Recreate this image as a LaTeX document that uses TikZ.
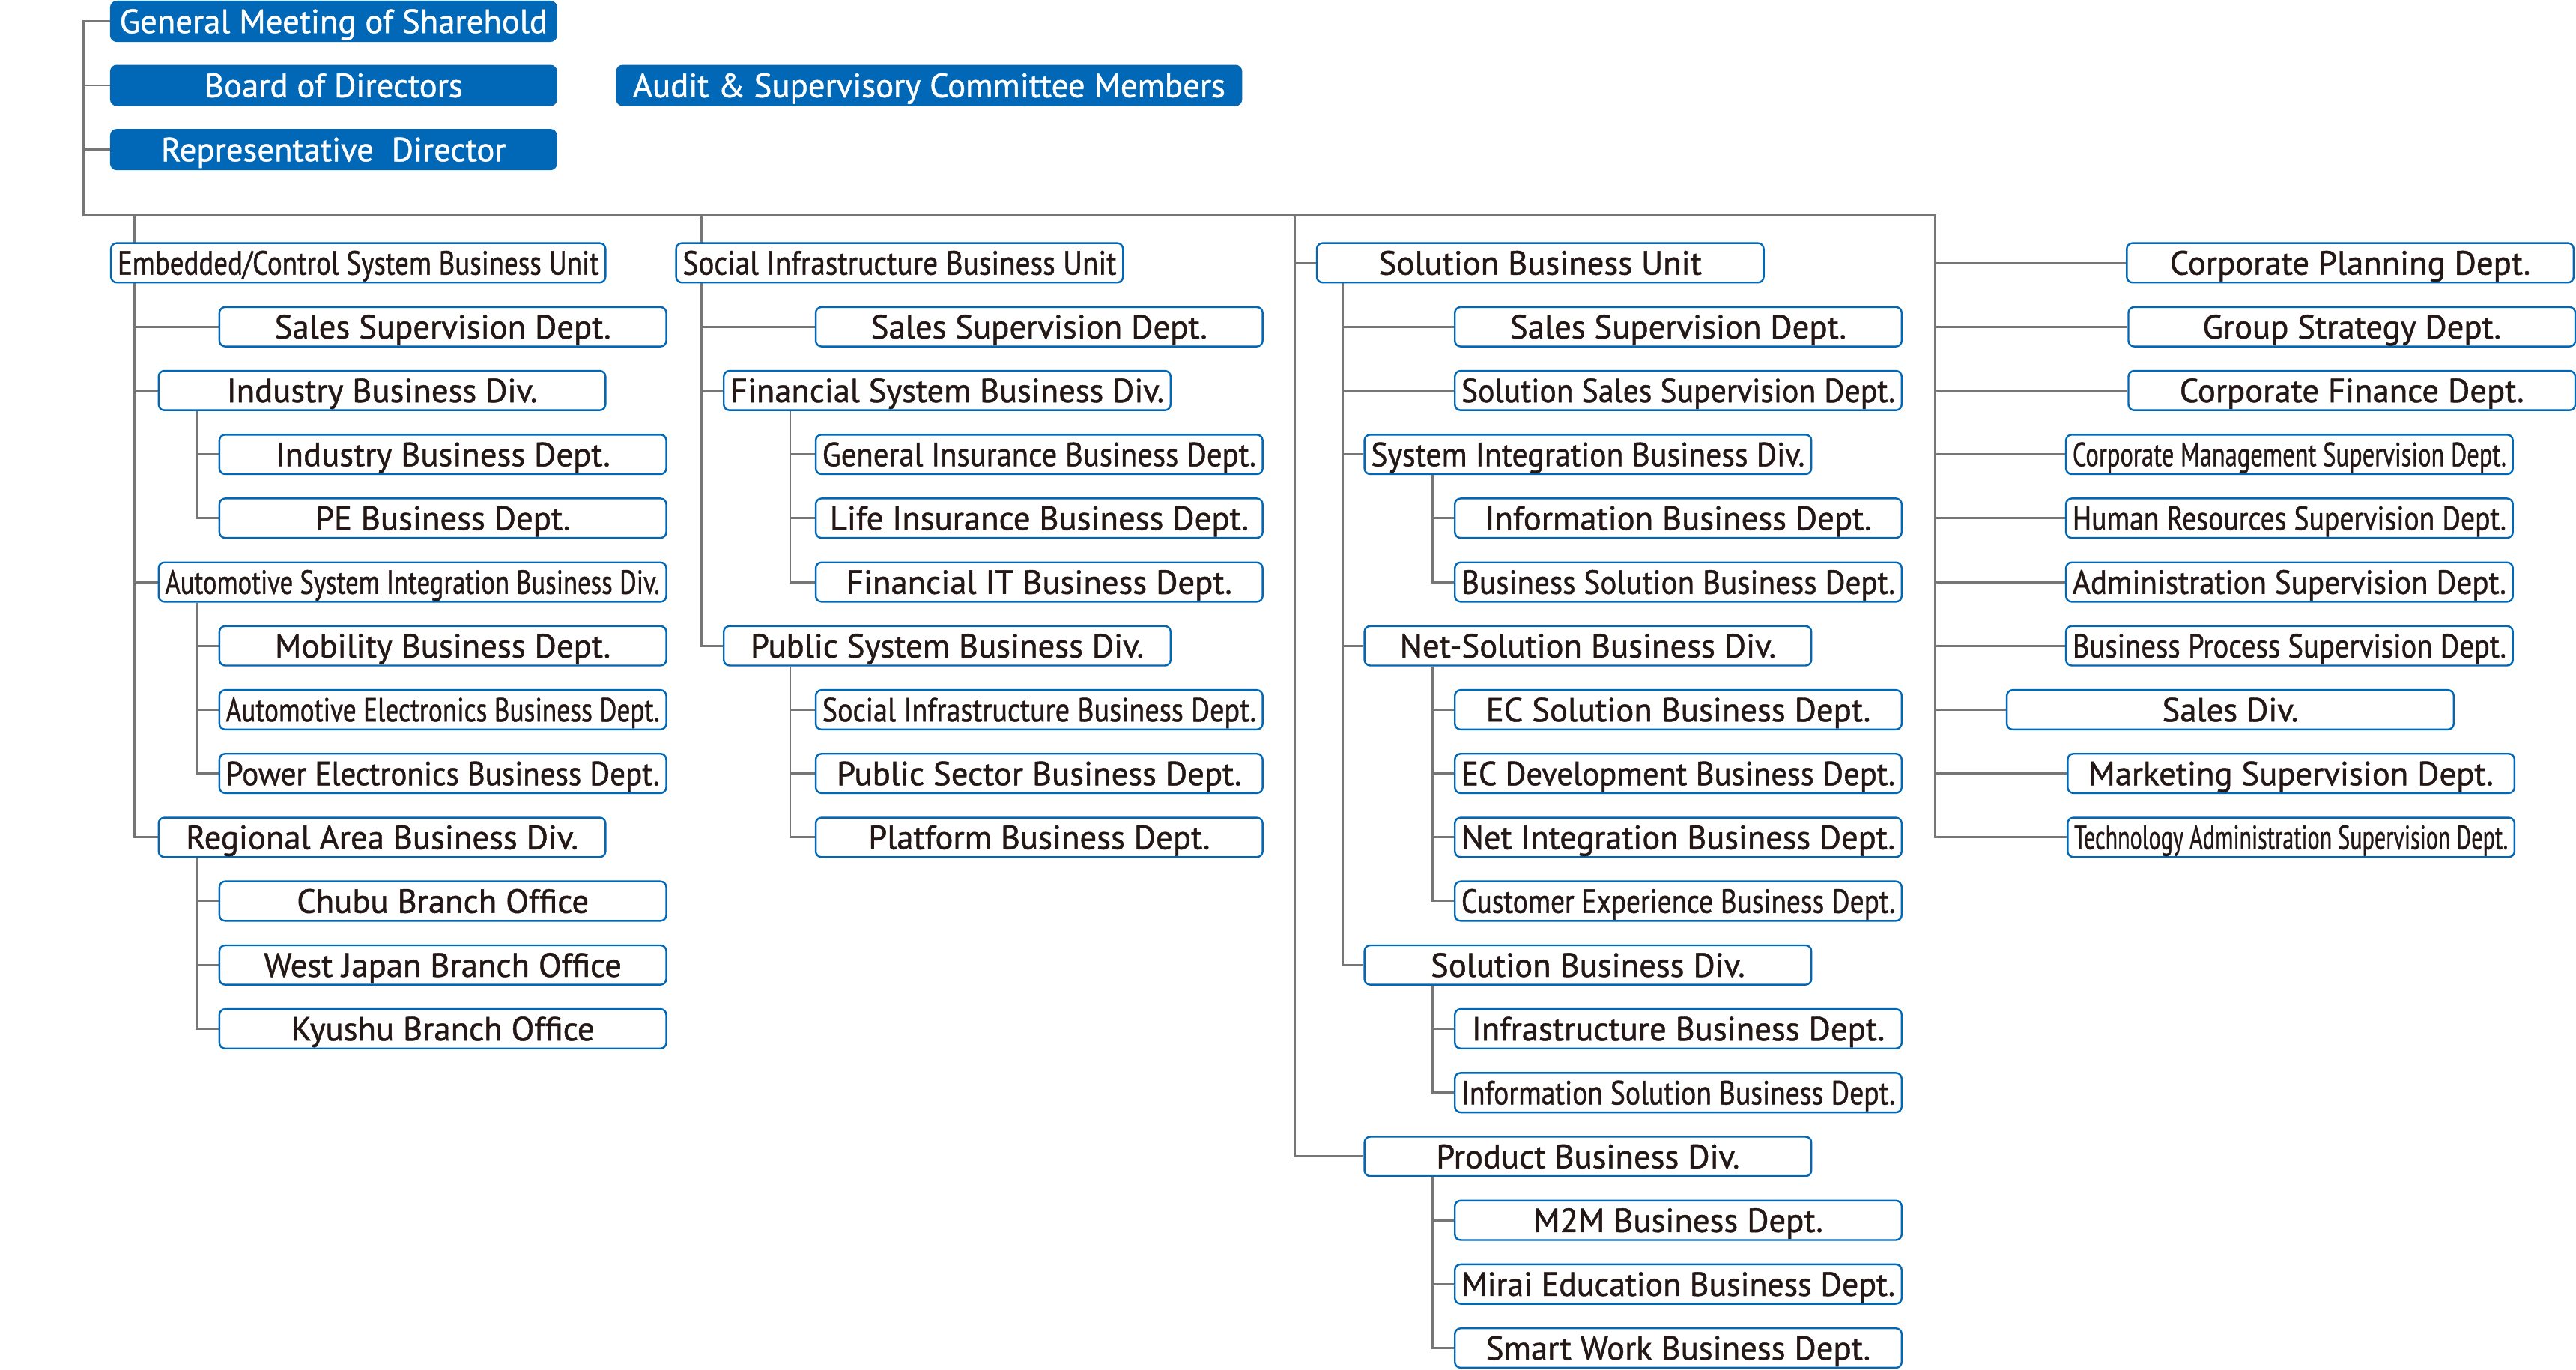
\documentclass[tikz,border=0pt]{standalone}
\usepackage{fontspec}
\setmainfont{PT Sans}[FakeBold=1]
\usepackage{graphicx}
\usetikzlibrary{backgrounds}

\definecolor{orgblue}{HTML}{0068B7}
\definecolor{orgline}{HTML}{767676}
\definecolor{orgtext}{HTML}{231815}

% squeeze a label sideways when it is wider than its box
\newsavebox\fitbox
\newcommand\fitlabel[2][264]{\sbox\fitbox{#2}%
  \ifdim\wd\fitbox>#1pt\relax
    \pgfmathsetmacro\fitratio{#1/\the\wd\fitbox}%
    \scalebox{\fitratio}[1]{\usebox\fitbox}%
  \else\usebox\fitbox\fi}

\tikzset{
  orgbox/.style={draw=orgblue, line width=1.1pt, fill=white, rounded corners=3.5pt,
    minimum width=272pt, minimum height=24pt, inner sep=0pt, text height=14.3pt, text depth=0pt,
    text=orgtext, font=\fontsize{20.4}{22}\selectfont, anchor=west},
  topbox/.style={orgbox, fill=orgblue, text=white},
  link/.style={draw=orgline, line width=1.3pt},
}

\begin{document}
\begin{tikzpicture}[x=1pt, y=-1pt]
\useasboundingbox (0,0) rectangle (1568,833.5);

% top management
\node [topbox, minimum width=271pt] (gm) at (67,13) {\fitlabel{General Meeting of Sharehold}};
\node [topbox, minimum width=271pt] (bod) at (67,52) {\fitlabel{Board of Directors}};
\node [topbox, minimum width=271pt] (rep) at (67,91) {\fitlabel{Representative~~Director}};
\node [topbox, minimum width=380pt] (audit) at (375,52) {\fitlabel[372]{Audit \& Supervisory Committee Members}};

% embedded / control column
\node [orgbox, minimum width=301pt] (ecu) at (67,160) {\fitlabel[293]{Embedded/Control System Business Unit}};
\node [orgbox] (ess) at (133,198.9) {\fitlabel{Sales Supervision Dept.}};
\node [orgbox] (ind) at (96,237.7) {\fitlabel{Industry Business Div.}};
\node [orgbox] (indd) at (133,276.6) {\fitlabel{Industry Business Dept.}};
\node [orgbox] (pe) at (133,315.4) {\fitlabel{PE Business Dept.}};
\node [orgbox, minimum width=309pt] (asi) at (96,354.3) {\fitlabel[301]{Automotive System Integration Business Div.}};
\node [orgbox] (mob) at (133,393.1) {\fitlabel{Mobility Business Dept.}};
\node [orgbox] (aeb) at (133,432) {\fitlabel{Automotive Electronics Business Dept.}};
\node [orgbox] (peb) at (133,470.8) {\fitlabel{Power Electronics Business Dept.}};
\node [orgbox] (reg) at (96,509.7) {\fitlabel{Regional Area Business Div.}};
\node [orgbox] (chubu) at (133,548.5) {\fitlabel{Chubu Branch Office}};
\node [orgbox] (wjp) at (133,587.4) {\fitlabel{West Japan Branch Office}};
\node [orgbox] (kyu) at (133,626.2) {\fitlabel{Kyushu Branch Office}};

% social infrastructure column
\node [orgbox] (siu) at (411,160) {\fitlabel{Social Infrastructure Business Unit}};
\node [orgbox] (sss) at (496,198.9) {\fitlabel{Sales Supervision Dept.}};
\node [orgbox] (fin) at (440,237.7) {\fitlabel{Financial System Business Div.}};
\node [orgbox] (gib) at (496,276.6) {\fitlabel{General Insurance Business Dept.}};
\node [orgbox] (lib) at (496,315.4) {\fitlabel{Life Insurance Business Dept.}};
\node [orgbox] (fit) at (496,354.3) {\fitlabel{Financial IT Business Dept.}};
\node [orgbox] (pub) at (440,393.1) {\fitlabel{Public System Business Div.}};
\node [orgbox] (sib) at (496,432) {\fitlabel{Social Infrastructure Business Dept.}};
\node [orgbox] (psb) at (496,470.8) {\fitlabel{Public Sector Business Dept.}};
\node [orgbox] (plat) at (496,509.7) {\fitlabel{Platform Business Dept.}};

% solution column
\node [orgbox] (sbu) at (801,160) {\fitlabel{Solution Business Unit}};
\node [orgbox] (sls) at (885,198.9) {\fitlabel{Sales Supervision Dept.}};
\node [orgbox] (sss2) at (885,237.7) {\fitlabel{Solution Sales Supervision Dept.}};
\node [orgbox] (sid) at (830,276.6) {\fitlabel{System Integration Business Div.}};
\node [orgbox] (infb) at (885,315.4) {\fitlabel{Information Business Dept.}};
\node [orgbox] (bsb) at (885,354.3) {\fitlabel{Business Solution Business Dept.}};
\node [orgbox] (nsd) at (830,393.1) {\fitlabel{Net-Solution Business Div.}};
\node [orgbox] (ecs) at (885,432) {\fitlabel{EC Solution Business Dept.}};
\node [orgbox] (ecd) at (885,470.8) {\fitlabel{EC Development Business Dept.}};
\node [orgbox] (nib) at (885,509.7) {\fitlabel{Net Integration Business Dept.}};
\node [orgbox] (cxb) at (885,548.5) {\fitlabel{Customer Experience Business Dept.}};
\node [orgbox] (sod) at (830,587.4) {\fitlabel{Solution Business Div.}};
\node [orgbox] (isb) at (885,626.2) {\fitlabel{Infrastructure Business Dept.}};
\node [orgbox] (iso) at (885,665.1) {\fitlabel{Information Solution Business Dept.}};
\node [orgbox] (prd) at (830,703.9) {\fitlabel{Product Business Div.}};
\node [orgbox] (m2m) at (885,742.8) {\fitlabel{M2M Business Dept.}};
\node [orgbox] (mir) at (885,781.6) {\fitlabel{Mirai Education Business Dept.}};
\node [orgbox] (swb) at (885,820.5) {\fitlabel{Smart Work Business Dept.}};

% corporate departments
\node [orgbox] (cpd) at (1294,160) {\fitlabel{Corporate Planning Dept.}};
\node [orgbox] (gsd) at (1295,198.9) {\fitlabel{Group Strategy Dept.}};
\node [orgbox] (cfd) at (1295,237.7) {\fitlabel{Corporate Finance Dept.}};
\node [orgbox] (cms) at (1257,276.6) {\fitlabel{Corporate Management Supervision Dept.}};
\node [orgbox] (hrs) at (1257,315.4) {\fitlabel{Human Resources Supervision Dept.}};
\node [orgbox] (ads) at (1257,354.3) {\fitlabel{Administration Supervision Dept.}};
\node [orgbox] (bps) at (1257,393.1) {\fitlabel{Business Process Supervision Dept.}};
\node [orgbox] (sdv) at (1221,432) {\fitlabel{Sales Div.}};
\node [orgbox] (mks) at (1258,470.8) {\fitlabel{Marketing Supervision Dept.}};
\node [orgbox] (tas) at (1258,509.7) {\fitlabel{Technology Administration Supervision Dept.}};

\coordinate (root) at (51,131);
\coordinate (c1) at (82,131);
\coordinate (c2) at (427,131);
\coordinate (c3) at (788,131);
\coordinate (c4) at (1178,131);

\begin{scope}[on background layer]
% main buses
\draw [link] (gm.west) -| (root) -- (c4) |- (tas.west);
\draw [link] (root |- bod.west) -- (bod.west); \draw [link] (root |- rep.west) -- (rep.west);
\draw [link] (c1) |- (reg.west);
\draw [link] (c2) |- (pub.west);
\draw [link] (c3) |- (prd.west);

% embedded / control
\draw [link] (c1 |- ess.west) -- (ess.west); \draw [link] (c1 |- ind.west) -- (ind.west);
\draw [link] (c1 |- asi.west) -- (asi.west);
\draw [link] ([xshift=23.6pt]ind.south west) |- (pe.west); \draw [link] ([xshift=23.6pt]ind.south west) |- (indd.west);
\draw [link] ([xshift=23.6pt]asi.south west) |- (peb.west); \draw [link] ([xshift=23.6pt]asi.south west) |- (mob.west);
\draw [link] ([xshift=23.6pt]asi.south west) |- (aeb.west);
\draw [link] ([xshift=23.6pt]reg.south west) |- (kyu.west); \draw [link] ([xshift=23.6pt]reg.south west) |- (chubu.west);
\draw [link] ([xshift=23.6pt]reg.south west) |- (wjp.west);

% social infrastructure
\draw [link] (c2 |- sss.west) -- (sss.west); \draw [link] (c2 |- fin.west) -- (fin.west);
\draw [link] ([xshift=41pt]fin.south west) |- (fit.west); \draw [link] ([xshift=41pt]fin.south west) |- (gib.west);
\draw [link] ([xshift=41pt]fin.south west) |- (lib.west);
\draw [link] ([xshift=41pt]pub.south west) |- (plat.west); \draw [link] ([xshift=41pt]pub.south west) |- (sib.west);
\draw [link] ([xshift=41pt]pub.south west) |- (psb.west);

% solution
\draw [link] (c3 |- sbu.west) -- (sbu.west);
\draw [link] ([xshift=16.5pt]sbu.south west) |- (sod.west);
\draw [link] ([xshift=16.5pt]sbu.south west) |- (sls.west); \draw [link] ([xshift=16.5pt]sbu.south west) |- (sss2.west);
\draw [link] ([xshift=16.5pt]sbu.south west) |- (sid.west); \draw [link] ([xshift=16.5pt]sbu.south west) |- (nsd.west);
\draw [link] ([xshift=42pt]sid.south west) |- (bsb.west); \draw [link] ([xshift=42pt]sid.south west) |- (infb.west);
\draw [link] ([xshift=42pt]nsd.south west) |- (cxb.west); \draw [link] ([xshift=42pt]nsd.south west) |- (ecs.west);
\draw [link] ([xshift=42pt]nsd.south west) |- (ecd.west); \draw [link] ([xshift=42pt]nsd.south west) |- (nib.west);
\draw [link] ([xshift=42pt]sod.south west) |- (iso.west); \draw [link] ([xshift=42pt]sod.south west) |- (isb.west);
\draw [link] ([xshift=42pt]prd.south west) |- (swb.west); \draw [link] ([xshift=42pt]prd.south west) |- (m2m.west);
\draw [link] ([xshift=42pt]prd.south west) |- (mir.west);

% corporate
\draw [link] (c4 |- cpd.west) -- (cpd.west); \draw [link] (c4 |- gsd.west) -- (gsd.west);
\draw [link] (c4 |- cfd.west) -- (cfd.west); \draw [link] (c4 |- cms.west) -- (cms.west);
\draw [link] (c4 |- hrs.west) -- (hrs.west); \draw [link] (c4 |- ads.west) -- (ads.west);
\draw [link] (c4 |- bps.west) -- (bps.west); \draw [link] (c4 |- sdv.west) -- (sdv.west);
\draw [link] (c4 |- mks.west) -- (mks.west);
\end{scope}
\end{tikzpicture}
\end{document}
